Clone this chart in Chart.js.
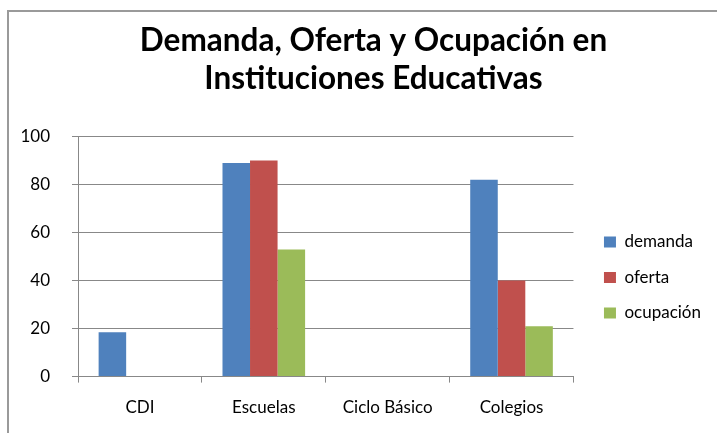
<!DOCTYPE html>
<html>
<head>
<meta charset="utf-8">
<script src="https://cdn.jsdelivr.net/npm/chart.js@4"></script>
<style>
  html, body { margin: 0; padding: 0; background: #fff; overflow: hidden; }
  body { width: 717px; height: 433px; position: relative; }
  #frame {
    position: absolute; left: 7px; top: 10px; width: 740px; height: 440px;
    border-left: 2px solid #9a9a9a; border-top: 2px solid #9a9a9a;
  }
  #wrap { position: absolute; left: 8px; top: 10px; width: 733px; height: 423px; }
</style>
</head>
<body>
<div id="frame"></div>
<div id="wrap"><canvas id="chart"></canvas></div>
<script>
const categories = ["CDI", "Escuelas", "Ciclo Básico", "Colegios"];
const demanda = [18.5, 89, 0, 82];
const oferta = [0, 90, 0, 40];
const ocupacion = [0, 53, 0, 21];
const yTicks = [0, 20, 40, 60, 80, 100];

const font = "Lato, 'Open Sans', sans-serif";

// nudge legend and title to where Excel put them
const boxShift = {
  id: "boxShift",
  afterLayout: function (chart) {
    var l = chart.legend;
    l.left += 12; l.right += 12;
    l.top += 56; l.bottom += 56;
    var t = chart.titleBlock;
    t.left += 20; t.right += 20;
  },
};

var ctx = document.getElementById("chart").getContext("2d");
var myChart = new Chart(ctx, {
  type: "bar",
  data: {
    labels: categories,
    datasets: [
      { label: "demanda", data: demanda, backgroundColor: "#4F81BD" },
      { label: "oferta", data: oferta, backgroundColor: "#C0504D" },
      { label: "ocupación", data: ocupacion, backgroundColor: "#9BBB59" },
    ],
  },
  plugins: [boxShift],
  options: {
    responsive: true,
    maintainAspectRatio: false,
    animation: false,
    datasets: {
      bar: { categoryPercentage: 0.667, barPercentage: 1, borderWidth: 0 },
    },
    layout: { padding: { left: 0, right: 42, bottom: 0 } },
    plugins: {
      title: {
        display: true,
        text: ["Demanda, Oferta y Ocupación en", "Instituciones Educativas"],
        color: "#000",
        font: { family: font, size: 31.5, weight: "bold", lineHeight: 1.2 },
        padding: { top: 12, bottom: 39 },
      },
      legend: {
        position: "right",
        labels: {
          color: "#000",
          font: { family: font, size: 17 },
          boxWidth: 12,
          boxHeight: 11,
          padding: 18.5,
        },
      },
      tooltip: { enabled: false },
    },
    scales: {
      x: {
        grid: { drawOnChartArea: false, drawTicks: true, tickLength: 6, color: "#888" },
        border: { color: "#888" },
        ticks: { color: "#000", font: { family: font, size: 17 }, padding: 15, maxRotation: 0 },
      },
      y: {
        min: 0,
        max: 100,
        afterBuildTicks: function (axis) {
          axis.ticks = yTicks.map(function (v) { return { value: v }; });
        },
        afterFit: function (axis) {
          axis.width = 70;
        },
        grid: { color: "#888", tickLength: 6 },
        border: { color: "#888" },
        ticks: { color: "#000", font: { family: font, size: 17 }, padding: 22 },
      },
    },
  },
});
</script>
</body>
</html>
